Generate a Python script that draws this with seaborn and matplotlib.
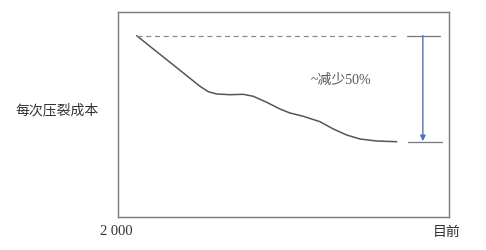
import matplotlib
matplotlib.use("Agg")
import matplotlib.pyplot as plt
import seaborn as sns
import pandas as pd

# data (x: time index 0-100, y: cost index 0-100)
time_idx = [5.65, 10.66, 15.71, 20.76, 24.77, 27.28, 29.82, 33.84, 37.85, 40.88,
            44.92, 48.94, 51.96, 55.98, 61.03, 65.05, 69.09, 73.11, 78.16, 84.2]
cost_idx = [88.44, 81.95, 75.46, 68.93, 63.76, 61.12, 60.0, 59.66, 59.85, 58.88,
            55.95, 52.68, 50.73, 49.12, 46.49, 42.93, 40.0, 38.05, 37.07, 36.73]
start_level = 88.5
end_level = 36.7
annotation = "~减少50%"
ylabel = "每次压裂成本"
x_start_label = "2 000"
x_end_label = "目前"

sns.set_theme(style="white")
plt.rcParams['font.family'] = ['Noto Sans CJK SC', 'DejaVu Sans']

fig = plt.figure(figsize=(4.86, 2.51), dpi=100)
ax = fig.add_axes([118/486, 33/251, 331/486, 205/251])

df = pd.DataFrame({"t": time_idx, "c": cost_idx})
sns.lineplot(data=df, x="t", y="c", ax=ax, color="#555555", linewidth=1.1,
             solid_joinstyle="round", solid_capstyle="round")

ax.plot([time_idx[0], time_idx[-1]], [start_level, start_level], ls=(0, (4, 3)), color="#8a8a8a", lw=0.9)
ax.plot([87.3, 97.3], [start_level, start_level], color="#777777", lw=0.9)
ax.plot([87.6, 97.9], [end_level, end_level], color="#777777", lw=0.9)
ax.annotate("", xy=(92.1, end_level + 0.3), xytext=(92.1, start_level),
            arrowprops=dict(arrowstyle="-|>", color="#4a76c0", lw=1.0, mutation_scale=8,
                            shrinkA=0, shrinkB=0))
ax.text(67.4, 67.3, annotation, ha="center", va="center", fontsize=10, color="#555555",
        family=['Liberation Serif', 'Noto Sans CJK SC'])

ax.set_xlim(0, 100)
ax.set_ylim(0, 100)
ax.set_xticks([])
ax.set_yticks([])
ax.set_xlabel("")
ax.set_ylabel("")
for s in ax.spines.values():
    s.set_color("#7a7a7a")
    s.set_linewidth(1.0)

fig.text(57/486, 1 - 110/251, ylabel, ha="center", va="center", fontsize=10, color="#333333")
fig.text(116/486, 1 - 232/251, x_start_label, ha="center", va="center", fontsize=10.5,
         color="#333333", family=['Liberation Serif'])
fig.text(447/486, 1 - 232/251, x_end_label, ha="center", va="center", fontsize=10, color="#333333")

fig.savefig("out.png", dpi=100)
